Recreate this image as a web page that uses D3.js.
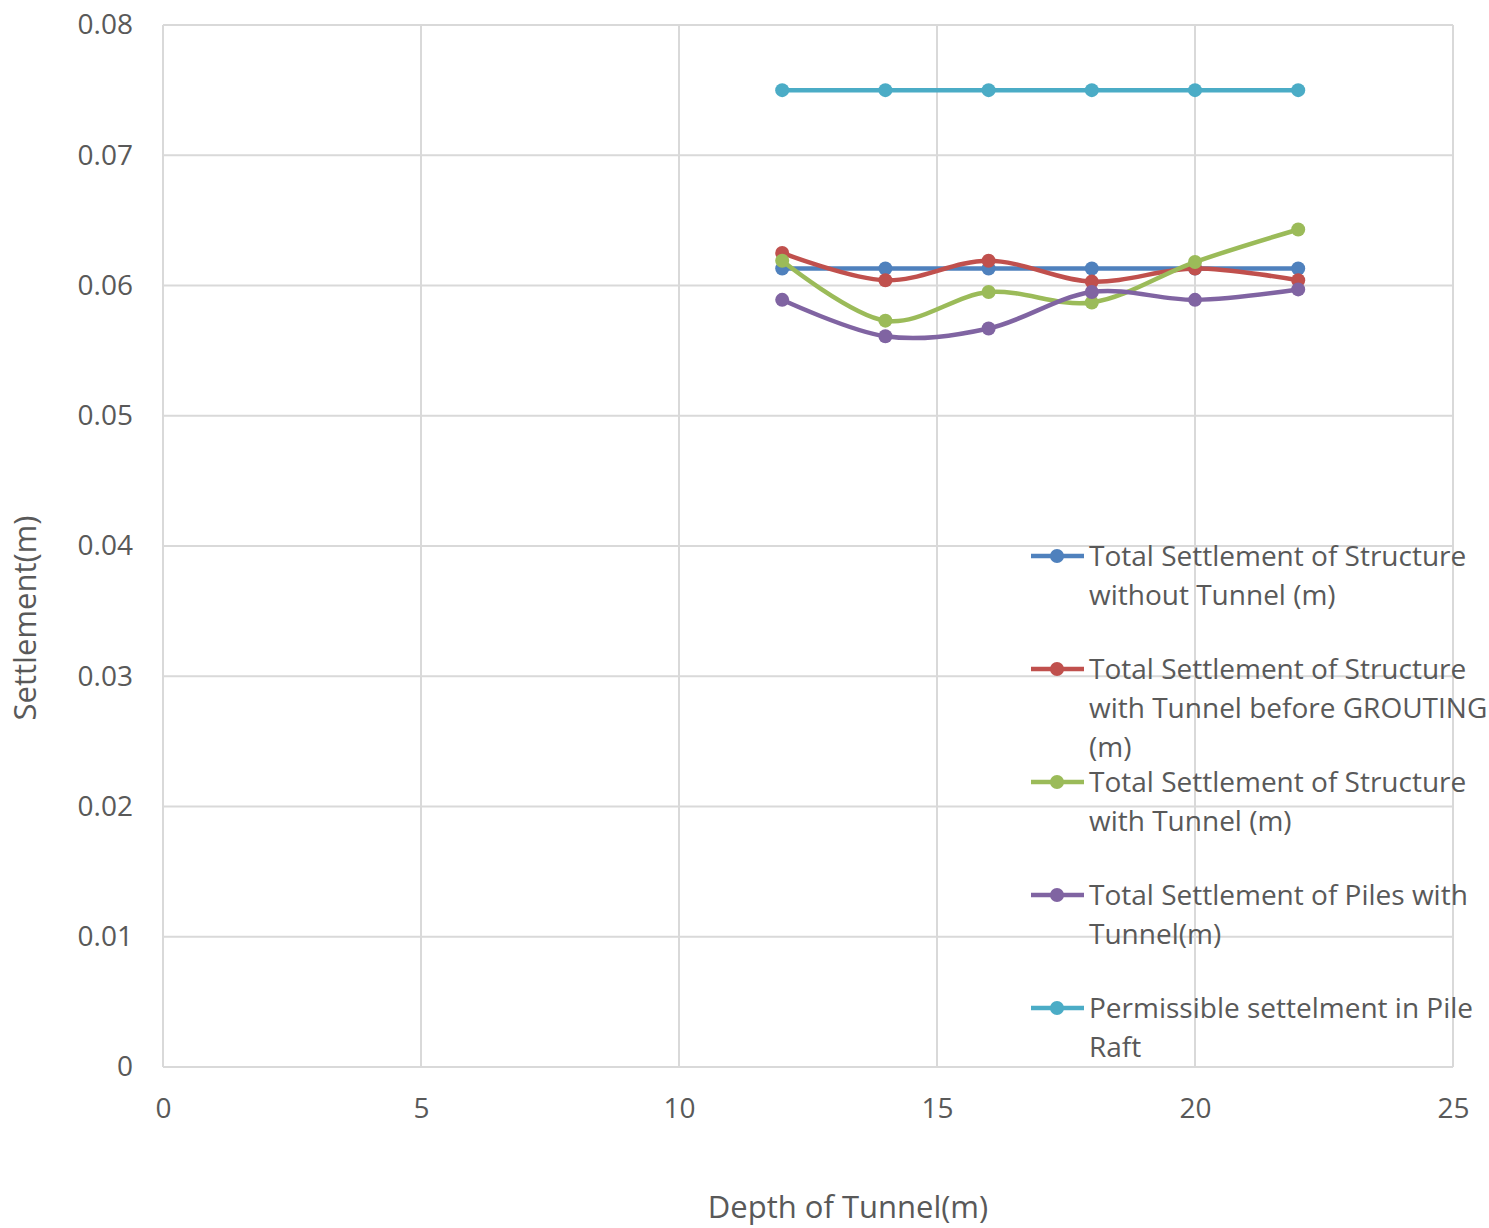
<!DOCTYPE html>
<meta charset="utf-8">
<style>
body { margin: 0; background: #fff; }
text { font-family: "Open Sans", "Liberation Sans", sans-serif; fill: #595959; }
.grid line { stroke: #d9d9d9; stroke-width: 2; }
.axis path, .axis line { stroke: none; }
</style>
<body>
<script src="https://cdn.jsdelivr.net/npm/d3@7"></script>
<script>
var depths = [12, 14, 16, 18, 20, 22];
var seriesNames = [
  ["Total Settlement of Structure", "without Tunnel (m)"],
  ["Total Settlement of Structure", "with Tunnel before GROUTING", "(m)"],
  ["Total Settlement of Structure", "with Tunnel (m)"],
  ["Total Settlement of Piles with", "Tunnel(m)"],
  ["Permissible settelment in Pile", "Raft"]
];
var colors = ["#4f81bd", "#c0504d", "#9bbb59", "#8064a2", "#4bacc6"];
var withoutTunnel = [0.0613, 0.0613, 0.0613, 0.0613, 0.0613, 0.0613];
var beforeGrouting = [0.0625, 0.0604, 0.0619, 0.0603, 0.0613, 0.0604];
var withTunnel = [0.0619, 0.0573, 0.0595, 0.0587, 0.0618, 0.0643];
var pilesWithTunnel = [0.0589, 0.0561, 0.0567, 0.0595, 0.0589, 0.0597];
var permissible = [0.075, 0.075, 0.075, 0.075, 0.075, 0.075];
var allSeries = [withoutTunnel, beforeGrouting, withTunnel, pilesWithTunnel, permissible];

var xTicks = [0, 5, 10, 15, 20, 25];
var yTicks = [0, 0.01, 0.02, 0.03, 0.04, 0.05, 0.06, 0.07, 0.08];

var margin = {top: 25, right: 36, bottom: 161, left: 163},
    width = 1489 - margin.left - margin.right,
    height = 1228 - margin.top - margin.bottom;

var x = d3.scaleLinear().domain([0, 25]).range([0, width]);
var y = d3.scaleLinear().domain([0, 0.08]).range([height, 0]);

var svg = d3.select("body").append("svg")
    .attr("width", 1489)
    .attr("height", 1228);

var g = svg.append("g")
    .attr("transform", "translate(" + margin.left + "," + margin.top + ")");

// gridlines
g.append("g").attr("class", "grid")
  .selectAll("line").data(yTicks).enter().append("line")
    .attr("x1", 0).attr("x2", width)
    .attr("y1", function(d) { return y(d); })
    .attr("y2", function(d) { return y(d); });
g.append("g").attr("class", "grid")
  .selectAll("line").data(xTicks).enter().append("line")
    .attr("y1", 0).attr("y2", height)
    .attr("x1", function(d) { return x(d); })
    .attr("x2", function(d) { return x(d); });

// axes (labels only)
g.append("g").attr("class", "axis")
    .attr("transform", "translate(0," + height + ")")
    .call(d3.axisBottom(x).tickValues(xTicks).tickFormat(d3.format("d")).tickSize(0).tickPadding(31))
    .selectAll("text").style("font-size", "28px").attr("fill", "#595959");
g.append("g").attr("class", "axis")
    .call(d3.axisLeft(y).tickValues(yTicks).tickFormat(function(d) { return d === 0 ? "0" : d3.format(".2f")(d); }).tickSize(0).tickPadding(30))
    .selectAll("text").style("font-size", "28px").attr("fill", "#595959");

// series
var line = d3.line()
    .x(function(d, i) { return x(depths[i]); })
    .y(function(d) { return y(d); })
    .curve(d3.curveCardinal.tension(0));

allSeries.forEach(function(s, k) {
  g.append("path").datum(s)
    .attr("fill", "none")
    .attr("stroke", colors[k])
    .attr("stroke-width", 4.5)
    .attr("d", line);
  g.selectAll(".pt" + k).data(s).enter().append("circle")
    .attr("cx", function(d, i) { return x(depths[i]); })
    .attr("cy", function(d) { return y(d); })
    .attr("r", 7)
    .attr("fill", colors[k]);
});

// legend
var legend = svg.append("g").attr("transform", "translate(1031,556)");
seriesNames.forEach(function(name, k) {
  var item = legend.append("g").attr("transform", "translate(0," + (k * 113) + ")");
  item.append("line").attr("x1", 0).attr("x2", 53).attr("y1", 0).attr("y2", 0)
    .attr("stroke", colors[k]).attr("stroke-width", 4.5);
  item.append("circle").attr("cx", 26).attr("cy", 0).attr("r", 7).attr("fill", colors[k]);
  item.selectAll("text").data(name).enter().append("text")
    .attr("x", 58)
    .attr("y", function(d, i) { return i * 39; })
    .attr("dy", "0.35em")
    .style("font-size", "28px")
    .text(function(d) { return d; });
});

// axis titles
svg.append("text")
    .attr("transform", "translate(36,618) rotate(-90)")
    .attr("text-anchor", "middle")
    .style("font-size", "31px")
    .text("Settlement(m)");
svg.append("text")
    .attr("x", 848).attr("y", 1218)
    .attr("text-anchor", "middle")
    .style("font-size", "31px")
    .text("Depth of Tunnel(m)");
</script>
